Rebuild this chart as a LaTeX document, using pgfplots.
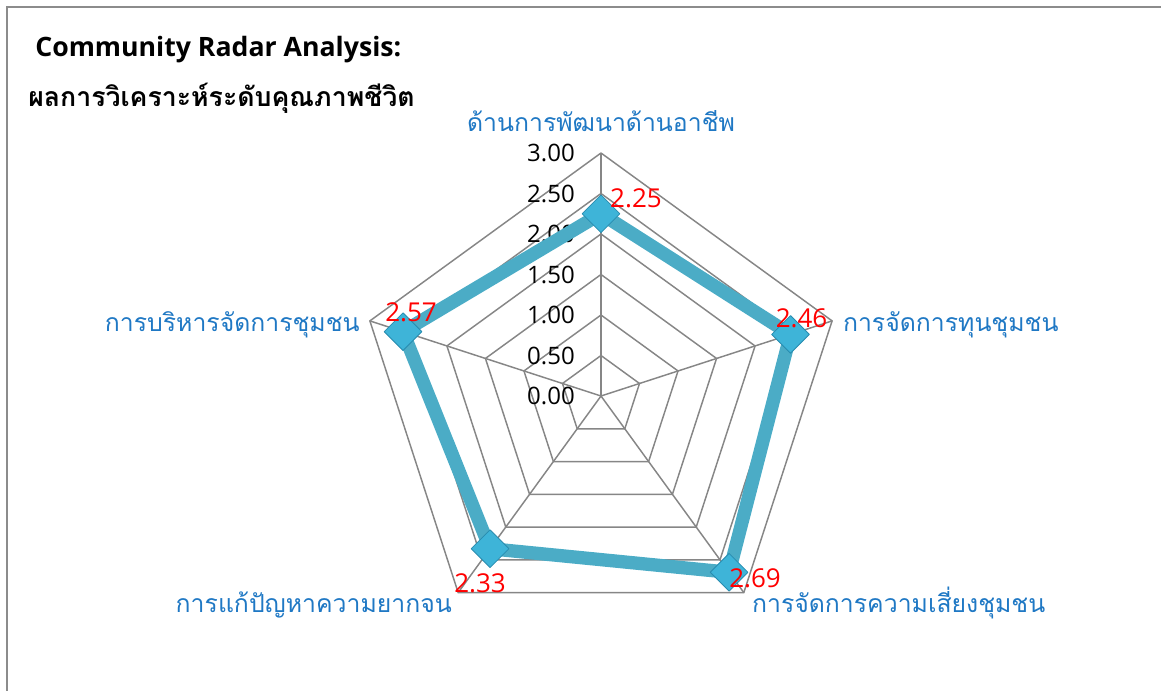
\documentclass[border=0pt]{standalone}
\usepackage{fontspec}
\setmainfont{Open Sans}
\newfontfamily\thai[Script=Thai]{Loma}
\usepackage{pgfplots}
\pgfplotsset{compat=1.18}
\usepgfplotslibrary{polar}
\definecolor{gridgray}{RGB}{134,134,134}
\definecolor{serieblue}{RGB}{75,172,198}
\definecolor{markfill}{RGB}{62,180,216}
\definecolor{markdraw}{RGB}{40,140,175}
\definecolor{labelblue}{RGB}{31,120,196}
\definecolor{framegray}{RGB}{140,140,140}
\begin{document}
\begin{tikzpicture}
\path[use as bounding box] (0,0) rectangle (870.75pt,-518.25pt);
\draw[framegray, line width=1.2pt] (5.25pt,-520pt) -- (5.25pt,-5.25pt) -- (872pt,-5.25pt);
\node[anchor=base west, inner sep=0pt, font=\fontsize{20}{24}\selectfont\bfseries] at (26.25pt,-42.75pt) {Community Radar Analysis:};
\node[anchor=base west, inner sep=0pt, font=\fontsize{20}{24}\selectfont\thai\bfseries] at (21pt,-80.25pt) {ผลการวิเคราะห์ระดับคุณภาพชีวิต};
\begin{polaraxis}[
  at={(450.75pt,-297pt)}, anchor=origin,
  scale only axis, width=364.5pt, height=364.5pt,
  xmin=0, xmax=360, ymin=0, ymax=3,
  hide axis,
  clip=false,
  after end axis/.code={
    \begin{scope}[every node/.style={font=\fontsize{19.5}{23}\selectfont, text=red, inner sep=0pt}]
    \node[xshift=26.25pt, yshift=11.25pt] at (axis cs:90,2.25) {2.25};
    \node[xshift=8.25pt, yshift=12pt] at (axis cs:18,2.46) {2.46};
    \node[xshift=19.5pt, yshift=-4.5pt] at (axis cs:-54,2.69) {2.69};
    \node[xshift=-7.5pt, yshift=-26.25pt] at (axis cs:-126,2.33) {2.33};
    \node[xshift=6pt, yshift=14.25pt] at (axis cs:162,2.57) {2.57};
    \end{scope}
  },
]
% radar grid rings
\foreach \r in {0.5,1,1.5,2,2.5,3}{
  \edef\temp{\noexpand\addplot[gridgray, line width=1.1pt, no marks] coordinates {(90,\r) (18,\r) (-54,\r) (-126,\r) (162,\r) (90,\r)};}
  \temp
}
% spokes
\addplot[gridgray, line width=1.1pt, no marks] coordinates {(90,0) (90,3)};
\addplot[gridgray, line width=1.1pt, no marks] coordinates {(18,0) (18,3)};
\addplot[gridgray, line width=1.1pt, no marks] coordinates {(-54,0) (-54,3)};
\addplot[gridgray, line width=1.1pt, no marks] coordinates {(-126,0) (-126,3)};
\addplot[gridgray, line width=1.1pt, no marks] coordinates {(162,0) (162,3)};
% tick labels
\foreach \r/\t in {0/0.00,0.5/0.50,1/1.00,1.5/1.50,2/2.00,2.5/2.50,3/3.00}{
  \edef\temp{\noexpand\node[anchor=east, inner sep=0pt, font=\noexpand\fontsize{18}{21}\noexpand\selectfont, xshift=-19.5pt] at (axis cs:90,\r) {\t};}
  \temp
}
% data
\addplot[serieblue, line width=10pt, line join=round, mark=square*, mark indices={1,2,3,4,5},
  mark options={rotate=45, mark size=10pt, fill=markfill, draw=markdraw, line width=0.6pt}]
  coordinates {(90,2.25) (18,2.46) (-54,2.69) (-126,2.33) (162,2.57) (90,2.25)};
% category labels
\begin{scope}[every node/.style={font=\fontsize{18.6}{22}\selectfont\thai, text=labelblue, inner sep=0pt}]
\node[anchor=base, yshift=16.5pt] at (axis cs:90,3) {ด้านการพัฒนาด้านอาชีพ};
\node[anchor=base west, xshift=8pt, yshift=-8pt] at (axis cs:18,3) {การจัดการทุนชุมชน};
\node[anchor=base west, xshift=6pt, yshift=-15pt] at (axis cs:-54,3) {การจัดการความเสี่ยงชุมชน};
\node[anchor=base east, xshift=-4.5pt, yshift=-15pt] at (axis cs:-126,3) {การแก้ปัญหาความยากจน};
\node[anchor=base east, xshift=-7.5pt, yshift=-8pt] at (axis cs:162,3) {การบริหารจัดการชุมชน};
\end{scope}
\end{polaraxis}
\end{tikzpicture}
\end{document}
